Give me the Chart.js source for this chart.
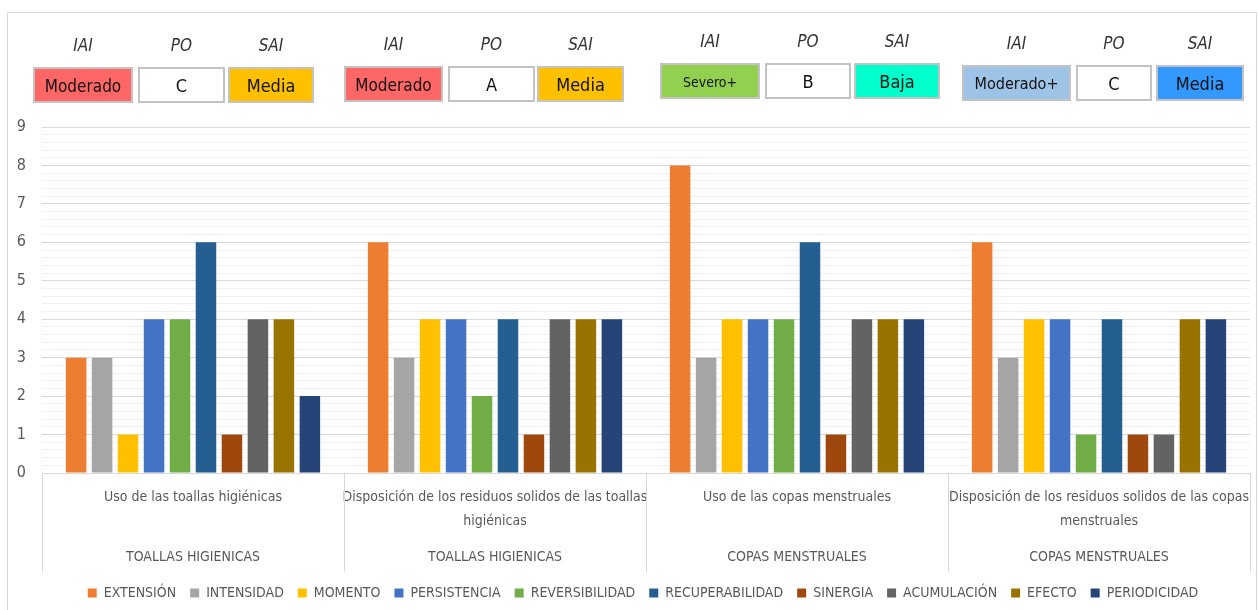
<!DOCTYPE html>
<html>
<head>
<meta charset="utf-8">
<script src="https://cdn.jsdelivr.net/npm/chart.js@4.4.1/dist/chart.umd.min.js"></script>
<style>
  body { margin: 0; background: #fff; }
  #wrap { position: relative; width: 1258px; height: 610px; overflow: hidden;
          font-family: 'Liberation Sans Narrow', 'DejaVu Sans Condensed', sans-serif; }
  #frame { position: absolute; left: 7px; top: 12px; width: 1250px; height: 600px;
           border: 1px solid #d9d9d9; box-sizing: border-box; }
  #chart { position: absolute; left: 0; top: 0; }
  .hdr { position: absolute; font-style: italic; font-size: 17px; color: #333;
         width: 60px; text-align: center; }
  .box { position: absolute; height: 36px; line-height: 34px; text-align: center;
         border: 2px solid #c3c3c3; box-sizing: border-box; color: #111; }
</style>
</head>
<body>
<div id="wrap">
  <div id="frame"></div>
  <canvas id="chart" width="1258" height="610"></canvas>
  <div id="boxes"></div>
</div>
<script>
// categories and groups
const subLabels = [
  ['Uso de las toallas higiénicas'],
  ['Disposición de los residuos solidos de las toallas', 'higiénicas'],
  ['Uso de las copas menstruales'],
  ['Disposición de los residuos solidos de las copas', 'menstruales']
];
const groupLabels = ['TOALLAS HIGIENICAS', 'TOALLAS HIGIENICAS', 'COPAS MENSTRUALES', 'COPAS MENSTRUALES'];

// series
const seriesNames = ['EXTENSIÓN', 'INTENSIDAD', 'MOMENTO', 'PERSISTENCIA', 'REVERSIBILIDAD',
  'RECUPERABILIDAD', 'SINERGIA', 'ACUMULACIÓN', 'EFECTO', 'PERIODICIDAD'];
const extension = [3, 6, 8, 6];
const intensidad = [3, 3, 3, 3];
const momento = [1, 4, 4, 4];
const persistencia = [4, 4, 4, 4];
const reversibilidad = [4, 2, 4, 1];
const recuperabilidad = [6, 4, 6, 4];
const sinergia = [1, 1, 1, 1];
const acumulacion = [4, 4, 4, 1];
const efecto = [4, 4, 4, 4];
const periodicidad = [2, 4, 4, 4];
const seriesColors = ['#ED7D31', '#A5A5A5', '#FFC000', '#4472C4', '#70AD47',
  '#255E91', '#9E480E', '#636363', '#997300', '#264478'];

// header boxes per group
const iaiLabels = ['Moderado', 'Moderado', 'Severo+', 'Moderado+'];
const poLabels = ['C', 'A', 'B', 'C'];
const saiLabels = ['Media', 'Media', 'Baja', 'Media'];
const iaiColors = ['#FF6666', '#FF6666', '#92D050', '#9DC3E6'];
const saiColors = ['#FFC000', '#FFC000', '#00FFCC', '#3399FF'];

// box layout (left x of each box, widths, top, text sizes)
const boxLayout = [
  { top: 67, x: [33, 138, 228], w: [100, 87, 86], fs: [17, 18, 18] },
  { top: 66, x: [344, 448, 537], w: [99, 87, 87], fs: [17, 18, 18] },
  { top: 63, x: [660, 765, 854], w: [100, 86, 86], fs: [14, 18, 18] },
  { top: 65, x: [962, 1076, 1156], w: [109, 76, 88], fs: [16, 18, 18] }
];

const boxes = document.getElementById('boxes');
boxLayout.forEach(function(g, i) {
  const texts = [iaiLabels[i], poLabels[i], saiLabels[i]];
  const fills = [iaiColors[i], '#ffffff', saiColors[i]];
  const heads = ['IAI', 'PO', 'SAI'];
  for (let k = 0; k < 3; k++) {
    const h = document.createElement('div');
    h.className = 'hdr';
    h.textContent = heads[k];
    h.style.left = (g.x[k] + g.w[k] / 2 - 30) + 'px';
    h.style.top = (g.top - 32) + 'px';
    boxes.appendChild(h);
    const b = document.createElement('div');
    b.className = 'box';
    b.textContent = texts[k];
    b.style.left = g.x[k] + 'px';
    b.style.top = g.top + 'px';
    b.style.width = g.w[k] + 'px';
    b.style.fontSize = g.fs[k] + 'px';
    b.style.background = fills[k];
    boxes.appendChild(b);
  }
});

const values = [extension, intensidad, momento, persistencia, reversibilidad,
  recuperabilidad, sinergia, acumulacion, efecto, periodicidad];

const FONT = "'Liberation Sans Narrow', 'DejaVu Sans Condensed', sans-serif";
const GREY = '#595959';

// vertical separators in the two-level category axis
const dividers = {
  id: 'dividers',
  afterLayout(chart) {
    // legend in the original sits a little right of centre
    chart.legend.left += 14;
    chart.legend.right += 14;
  },
  afterDraw(chart) {
    const xs = chart.scales.x;
    const x2 = chart.scales.x2;
    const c = chart.ctx;
    c.save();
    c.strokeStyle = '#d9d9d9';
    c.lineWidth = 1;
    for (let i = 0; i <= subLabels.length; i++) {
      const px = Math.round(xs.getPixelForValue(i - 0.5)) + 0.5;
      c.beginPath();
      c.moveTo(px, chart.chartArea.bottom);
      c.lineTo(px, x2.bottom);
      c.stroke();
    }
    c.restore();
  }
};

new Chart(document.getElementById('chart'), {
  type: 'bar',
  data: {
    labels: subLabels,
    datasets: seriesNames.map(function(name, i) {
      return {
        label: name,
        data: values[i],
        backgroundColor: seriesColors[i],
        xAxisID: 'x',
        categoryPercentage: 0.86,
        barPercentage: 0.79
      };
    })
  },
  options: {
    responsive: false,
    animation: false,
    layout: { padding: { left: 8, right: 8, top: 127, bottom: 0 } },
    plugins: {
      tooltip: { enabled: false },
      legend: {
        position: 'bottom',
        labels: {
          boxWidth: 9, boxHeight: 9, padding: 14,
          color: GREY, font: { family: FONT, size: 14 }
        }
      }
    },
    scales: {
      y: {
        min: 0, max: 9,
        border: { display: false },
        afterFit(s) { s.width = 34; },
        grid: {
          drawTicks: false,
          color(ctx) {
            const v = ctx.tick.value;
            return Math.abs(v - Math.round(v)) < 1e-6 ? '#d9d9d9' : '#f0f0f0';
          }
        },
        ticks: {
          stepSize: 0.2, maxTicksLimit: 100, autoSkip: false, padding: 16,
          color: GREY, font: { family: FONT, size: 16 },
          callback(v) { return Math.abs(v - Math.round(v)) < 1e-6 ? Math.round(v) : ''; }
        }
      },
      x: {
        position: 'bottom',
        grid: { display: false },
        border: { display: true, color: '#d9d9d9' },
        afterFit(s) { s.height = 62; s.paddingLeft = 0; s.paddingRight = 0; },
        ticks: {
          maxRotation: 0, autoSkip: false, padding: 4,
          color: GREY, font: { family: FONT, size: 14, lineHeight: 1.71 }
        }
      },
      x2: {
        type: 'category',
        position: 'bottom',
        labels: groupLabels,
        grid: { display: false },
        border: { display: false },
        afterFit(s) { s.height = 37; s.paddingLeft = 0; s.paddingRight = 0; },
        ticks: {
          maxRotation: 0, autoSkip: false, padding: 2,
          color: GREY, font: { family: FONT, size: 14, lineHeight: 1.71 }
        }
      }
    }
  },
  plugins: [dividers]
});
</script>
</body>
</html>
